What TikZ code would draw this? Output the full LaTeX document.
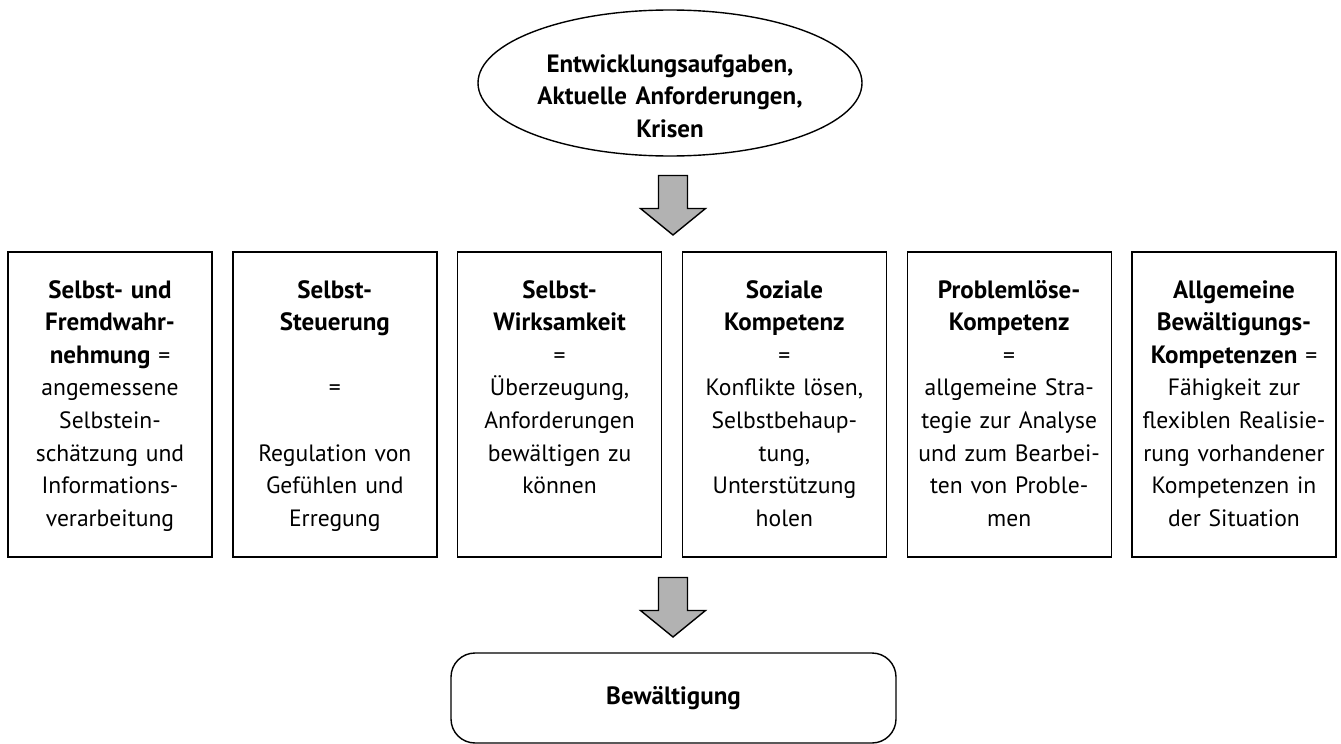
\documentclass[tikz,border=0pt]{standalone}
\usepackage{fontspec}
\setmainfont{PT Sans}[BoldFeatures={Scale=1.06}]
\usepackage{tikz}
\usetikzlibrary{positioning,shapes.geometric}
\tikzstyle{kompetenz}=[draw,line width=0.7pt,outer sep=0pt,inner xsep=2pt,inner ysep=0pt,text width=98pt,align=center,text height=23pt,text depth=129.5pt,font=\fontsize{11.8pt}{16.3pt}\selectfont]
\tikzstyle{ziel}=[draw,ellipse,line width=0.7pt,minimum width=192pt,minimum height=73pt,inner sep=0pt]
\tikzstyle{titel}=[text width=180pt,align=center,font=\fontsize{11.8pt}{16.3pt}\selectfont\bfseries]
\tikzstyle{ergebnis}=[draw,rounded corners=12pt,line width=0.7pt,minimum width=222.5pt,minimum height=45pt,font=\fontsize{11.8pt}{16.3pt}\selectfont\bfseries]
\tikzstyle{pfeil}=[draw,line width=0.7pt,fill=black!30,line join=miter]

\begin{document}
\begin{tikzpicture}[x=0.5pt,y=-0.5pt,node distance=10.4pt]
\useasboundingbox (0,0) rectangle (1341,744);
\node [ziel] (aufgaben) at (670,83) {};
\node [titel] (aufgabentext) at (670,96) {Entwicklungsaufgaben,\\ Aktuelle Anforderungen,\\ Krisen};
% die sechs Kompetenzen
\node [kompetenz,anchor=north west] (k1) at (8,252) {\textbf{Selbst- und}\\ \textbf{Fremdwahr-}\\ \textbf{nehmung} =\\ angemessene\\ Selbstein-\\ schätzung und\\ Informations-\\ verarbeitung};
\node [kompetenz,right=of k1] (k2) {\textbf{Selbst-}\\ \textbf{Steuerung}\\ ~\\ =\\ ~\\ Regulation von\\ Gefühlen und\\ Erregung};
\node [kompetenz,right=of k2] (k3) {\textbf{Selbst-}\\ \textbf{Wirksamkeit}\\ =\\ Überzeugung,\\ Anforderungen\\ bewältigen zu\\ können};
\node [kompetenz,right=of k3] (k4) {\textbf{Soziale}\\ \textbf{Kompetenz}\\ =\\ Konflikte lösen,\\ Selbstbehaup-\\ tung,\\ Unterstützung\\ holen};
\node [kompetenz,right=of k4] (k5) {\textbf{Problemlöse-}\\ \textbf{Kompetenz}\\ =\\ allgemeine Stra-\\ tegie zur Analyse\\ und zum Bearbei-\\ ten von Proble-\\ men};
\node [kompetenz,right=of k5] (k6) {\textbf{Allgemeine}\\ \textbf{Bewältigungs-}\\ \textbf{Kompetenzen} =\\ Fähigkeit zur\\ flexiblen Realisie-\\ rung vorhandener\\ Kompetenzen in\\ der Situation};
\node [ergebnis] (bewaeltigung) at (673.5,698) {Bewältigung};
% Pfeile
\coordinate (spitze1) at (673,235);
\coordinate (spitze2) at (673,637);
\foreach \s in {spitze1,spitze2}
  \draw [pfeil] (\s) -- ++(-32.5,-26.5) -- ++(18,0) -- ++(0,-33) -- ++(29,0) -- ++(0,33) -- ++(18,0) -- cycle;
\end{tikzpicture}
\end{document}
